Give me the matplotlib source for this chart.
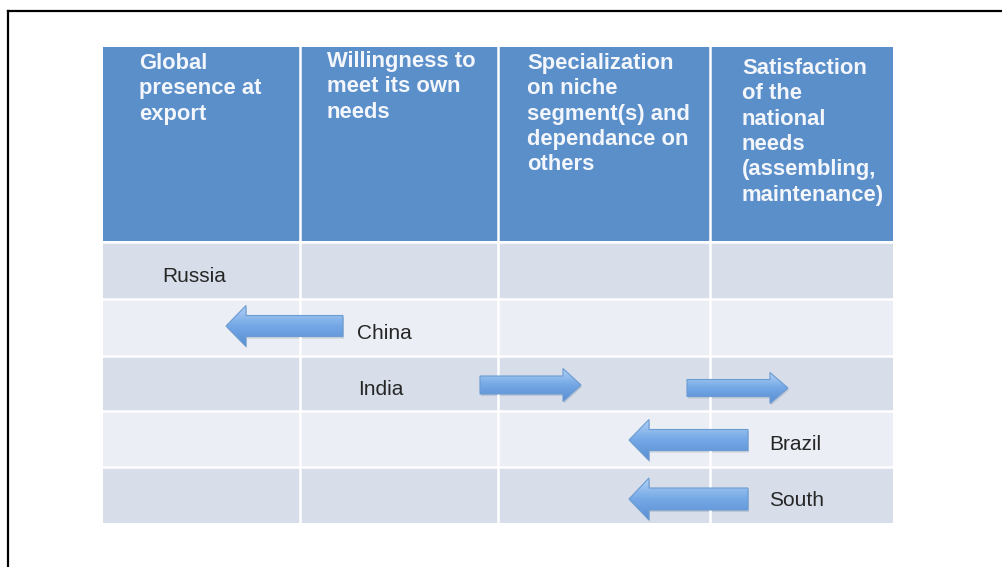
import numpy as np
import matplotlib
matplotlib.use("Agg")
import matplotlib.pyplot as plt
from matplotlib.patches import Rectangle, Polygon
from matplotlib.colors import LinearSegmentedColormap

# table layout (pixel units)
col_edges = [103, 300, 498, 710, 893]
header_top, header_bottom = 47, 241
row_edges = [242, 299, 356, 411, 467, 523]

# header texts
header_labels = [
    "Global\npresence at\nexport",
    "Willingness to\nmeet its own\nneeds",
    "Specialization\non niche\nsegment(s) and\ndependance on\nothers",
    "Satisfaction\nof the\nnational\nneeds\n(assembling,\nmaintenance)",
]
header_x = [139, 327, 527, 742]
header_y = [53, 51, 53, 58]

# countries, the row they sit in and where the label starts
countries = ["Russia", "China", "India", "Brazil", "South"]
country_row = [0, 1, 2, 3, 4]
country_x = [162, 357, 358, 769, 769]

# block arrows: tail x, tip x, centre y, shaft height, head height
arrow_tail = [343, 480, 687, 748, 748]
arrow_tip = [226, 581, 788, 629, 629]
arrow_y = [326, 385, 388, 440, 499]
arrow_shaft = [21, 18, 17, 21, 22]
arrow_head = [41, 33, 31, 41, 42]

header_color = "#5b8fca"
row_colors = ["#d7dee9", "#ebeef4"]

fig = plt.figure(figsize=(10.02, 5.67), dpi=100)
ax = fig.add_axes([0, 0, 1, 1])
ax.set_xlim(0, 1002)
ax.set_ylim(567, 0)
ax.axis("off")

# frame: only the left and top edges show
ax.plot([8, 8], [567, 11], color="black", lw=1.6, solid_capstyle="projecting")
ax.plot([8, 1002], [11, 11], color="black", lw=1.6, solid_capstyle="projecting")

# header band
ax.add_patch(Rectangle((col_edges[0], header_top), col_edges[-1] - col_edges[0],
                       header_bottom - header_top, color=header_color, lw=0))

# body rows
for i in range(len(row_edges) - 1):
    ax.add_patch(Rectangle((col_edges[0], row_edges[i]), col_edges[-1] - col_edges[0],
                           row_edges[i + 1] - row_edges[i], color=row_colors[i % 2], lw=0))
    if i > 0:
        ax.plot([col_edges[0], col_edges[-1]], [row_edges[i]] * 2, color="white", lw=1.8)
ax.plot([col_edges[0], col_edges[-1]], [header_bottom + 0.5] * 2, color="white", lw=1.8)

# column separators
for x in col_edges[1:-1]:
    ax.plot([x, x], [header_top, row_edges[-1]], color="white", lw=1.8)

# header labels
for lab, x, y in zip(header_labels, header_x, header_y):
    ax.text(x, y, lab, ha="left", va="top", color="#f3f6fb", fontsize=15.8,
            fontweight="bold", family="Liberation Sans", linespacing=1.27)

# country labels
for name, r, x in zip(countries, country_row, country_x):
    yc = (row_edges[r] + row_edges[r + 1]) / 2
    ax.text(x, yc + 11.5, name, ha="left", va="baseline", color="#262626",
            fontsize=15, family="Liberation Sans")

# arrows with a vertical gradient
cmap = LinearSegmentedColormap.from_list("arr", ["#b3d2f4", "#74a8e6", "#5a8fd3"])
grad = np.linspace(0, 1, 64).reshape(-1, 1)
for x0, x1, yc, sh, hh in zip(arrow_tail, arrow_tip, arrow_y, arrow_shaft, arrow_head):
    d = np.sign(x1 - x0)
    hl = 18 if d > 0 else 20
    xb = x1 - d * hl
    verts = [(x0, yc - sh / 2), (xb, yc - sh / 2), (xb, yc - hh / 2), (x1, yc),
             (xb, yc + hh / 2), (xb, yc + sh / 2), (x0, yc + sh / 2)]
    # soft shadow
    shadow = Polygon([(vx + 1, vy + 2) for vx, vy in verts], closed=True,
                     facecolor="#8a98aa", alpha=0.35, lw=0)
    ax.add_patch(shadow)
    poly = Polygon(verts, closed=True, facecolor="none", edgecolor="#6b9bd3", lw=0.8)
    ax.add_patch(poly)
    im = ax.imshow(grad, cmap=cmap, aspect="auto",
                   extent=[min(x0, x1), max(x0, x1), yc + hh / 2, yc - hh / 2],
                   interpolation="bilinear", zorder=2)
    im.set_clip_path(poly)
    poly.set_zorder(3)

ax.set_xlim(0, 1002)
ax.set_ylim(567, 0)
fig.savefig("out.png", dpi=100)
